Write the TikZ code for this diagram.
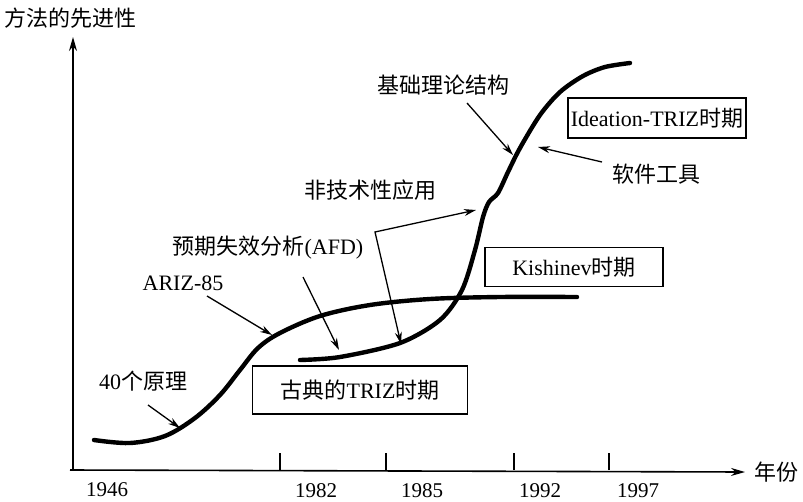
\documentclass[tikz,border=0pt]{standalone}
\usepackage{fontspec}
\setmainfont{Liberation Serif}
\newfontfamily\cjk{Noto Sans CJK SC}
\usetikzlibrary{arrows.meta}
\begin{document}
\begin{tikzpicture}[x=1pt,y=-1pt,
  lbl/.style={inner sep=0pt,font=\fontsize{22}{24}\selectfont},
  yr/.style={inner sep=0pt,text height=14pt,text depth=0pt,font=\fontsize{21}{24}\selectfont},
  box/.style={draw,line width=1.2pt,inner sep=0pt,font=\fontsize{22}{24}\selectfont},
  axis/.style={line width=1.6pt,-{Stealth[length=14pt,width=8pt]}},
  ptr/.style={line width=1.3pt,-{Stealth[length=12pt,width=7pt]}},
  curve/.style={line width=4.4pt,line cap=round}]
\useasboundingbox (0,0) rectangle (803,501);
% axes
\coordinate (O) at (73,470);
\coordinate (ytop) at (73,37);
\coordinate (xend) at (745,472);
\draw[axis] (O) -- (ytop);
\draw[axis] (70,470) -- (xend);
\node[lbl] (ylab) at (71,18) {\cjk 方法的先进性};
\node[lbl] (xlab) at (776,472) {\cjk 年份};
% ticks
\foreach \x in {280,386,514,609}{\draw[line width=1.4pt] (\x,470) -- (\x,453);}
\node[yr] (y1946) at (107,489) {1946};
\node[yr] (y1982) at (316,490) {1982};
\node[yr] (y1985) at (422,490) {1985};
\node[yr] (y1992) at (540,490) {1992};
\node[yr] (y1997) at (638,490) {1997};
% curves
\draw[curve] plot[smooth,tension=0.55] coordinates {(94,440) (130,443) (165,436) (195,418) (220,395) (240,370) (258,348) (280,333) (320,316) (370,305) (430,299) (500,297) (577,297)};
\draw[curve] plot[smooth,tension=0.5] coordinates {(300,360) (340,357) (400,343) (440,320) (462,290) (475,250) (483,217) (489,202) (498,193) (508,172) (520,148) (540,115) (560,92) (583,76) (605,67) (630,63)};
% boxes
\node[box,minimum width=178pt,minimum height=40pt] (ideation) at (657,118) {Ideation-TRIZ{\cjk 时期}};
\node[box,minimum width=178pt,minimum height=39pt] (kish) at (574,267) {Kishinev{\cjk 时期}};
\node[box,minimum width=215pt,minimum height=48pt] (classic) at (360,390) {{\cjk 古典的}TRIZ{\cjk 时期}};
% labels
\node[lbl] (l40) at (143,381) {40{\cjk 个原理}};
\node[lbl] (lariz) at (183,283) {ARIZ-85};
\node[lbl] (lafd) at (268,248) {{\cjk 预期失效分析}(AFD)};
\node[lbl] (lnon) at (370,190) {\cjk 非技术性应用};
\node[lbl] (lbase) at (443,85) {\cjk 基础理论结构};
\node[lbl] (lsoft) at (656,174) {\cjk 软件工具};
% pointer targets
\coordinate (s40) at (148,405);
\coordinate (t40) at (180,428);
\coordinate (sariz) at (207,296);
\coordinate (tariz) at (272,335);
\coordinate (safd) at (303,277);
\coordinate (tafd) at (339,350);
\coordinate (cnon) at (375,232);
\coordinate (tnon1) at (401,344);
\coordinate (tnon2) at (476,210);
\coordinate (sbase) at (467,103);
\coordinate (tbase) at (513,155);
\coordinate (ssoft) at (602,162);
\coordinate (tsoft) at (538,147);
\draw[ptr] (s40) -- (t40);
\draw[ptr] (sariz) -- (tariz);
\draw[ptr] (safd) -- (tafd);
\draw[ptr,{Stealth[length=12pt,width=7pt]}-{Stealth[length=12pt,width=7pt]}] (tnon1) -- (cnon) -- (tnon2);
\draw[ptr] (sbase) -- (tbase);
\draw[ptr] (ssoft) -- (tsoft);
\end{tikzpicture}
\end{document}
